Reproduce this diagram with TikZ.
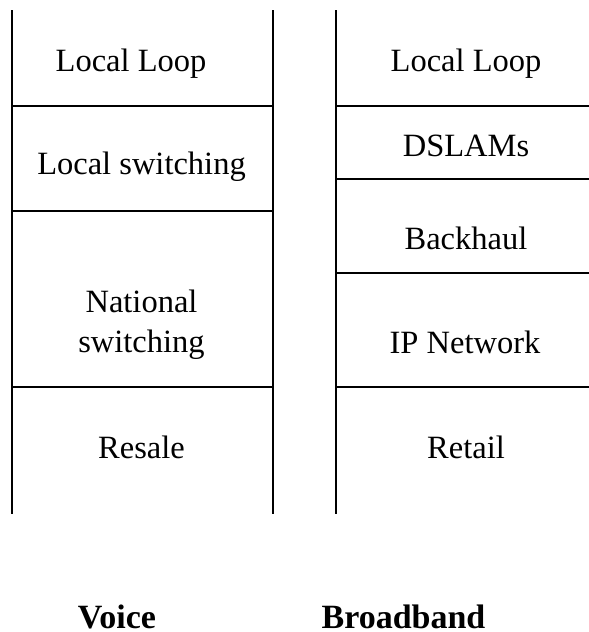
\documentclass[tikz,border=0pt]{standalone}
\usepackage{fontspec}
\setmainfont{Liberation Serif}
\begin{document}
\begin{tikzpicture}[x=1pt,y=-1pt,
  rule/.style={line width=2pt,black},
  lbl/.style={anchor=base,inner sep=0pt,font=\fontsize{32.5}{38}\selectfont},
  ttl/.style={anchor=base,inner sep=0pt,font=\fontsize{34}{40}\selectfont\bfseries}]
\useasboundingbox (0,0) rectangle (589,632);
% Voice column
\draw[rule] (11.5,10) -- (11.5,514);
\draw[rule] (273,10) -- (273,514);
\draw[rule] (11.5,106) -- (273,106);
\draw[rule] (11.5,211) -- (273,211);
\draw[rule] (11.5,387) -- (273,387);
% Broadband column
\draw[rule] (335.5,10) -- (335.5,514);
\draw[rule] (335.5,106) -- (589,106);
\draw[rule] (335.5,179) -- (589,179);
\draw[rule] (335.5,273) -- (589,273);
\draw[rule] (335.5,387) -- (589,387);
% labels
\node[lbl] (vll) at (131,71) {Local Loop};
\node[lbl] (vls) at (141.5,174) {Local switching};
\node[lbl] (vns1) at (141.5,312) {National};
\node[lbl] (vns2) at (141.5,352) {switching};
\node[lbl] (vrs) at (141.5,458) {Resale};
\node[lbl] (bll) at (466,71) {Local Loop};
\node[lbl] (bds) at (466,156) {DSLAMs};
\node[lbl] (bbh) at (466,249) {Backhaul};
\node[lbl] (bip) at (465,353) {IP Network};
\node[lbl] (brt) at (466,458) {Retail};
\node[ttl] (voice) at (117,628) {Voice};
\node[ttl] (bb) at (403.5,628) {Broadband};
\end{tikzpicture}
\end{document}
